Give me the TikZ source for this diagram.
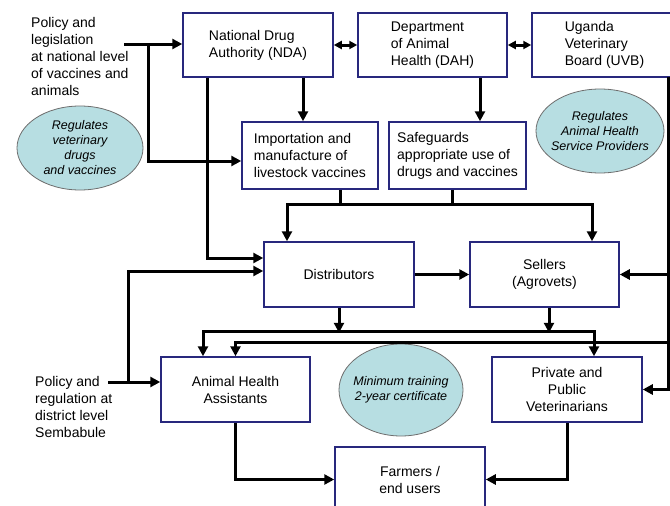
\documentclass[tikz,border=0pt]{standalone}
\usepackage{fontspec}
\setmainfont{Liberation Sans}
\usetikzlibrary{arrows.meta,shapes.geometric,calc}
\definecolor{boxblue}{RGB}{40,40,125}
\definecolor{ellfill}{RGB}{183,222,226}
\definecolor{ellline}{RGB}{110,110,110}
\begin{document}
\begin{tikzpicture}[x=1pt,y=-1pt,
  font=\fontsize{14}{17}\selectfont,
  >={Triangle[length=10pt,width=10pt]},
  box/.style={draw=boxblue,line width=1.5pt,fill=white,align=center,inner sep=2pt},
  ell/.style={ellipse,draw=ellline,fill=ellfill,line width=0.8pt,align=center,
    inner xsep=-10pt,inner ysep=-3pt,font=\fontsize{12.5}{15}\selectfont\itshape},
  conn/.style={line width=3pt},
  dbl/.style={line width=3pt,{Triangle[length=8pt,width=8pt]}-{Triangle[length=8pt,width=8pt]}},
  plain/.style={inner sep=0pt,align=left}]
\useasboundingbox (0,0) rectangle (670,506);
\clip (0,0) rectangle (670,506);
\fill[white] (0,0) rectangle (670,506);

% boxes
\node[box,minimum width=150pt,minimum height=64pt,align=left] (nda) at (258,45) {National Drug\\Authority (NDA)};
\node[box,minimum width=149pt,minimum height=64pt,align=left] (dah) at (432.5,45) {Department\\of Animal\\Health (DAH)};
\node[box,minimum width=145pt,minimum height=64pt,align=left] (uvb) at (604.5,45) {Uganda\\Veterinary\\Board (UVB)};
\node[box,minimum width=136pt,minimum height=67pt,align=left] (imp) at (310,155.5) {Importation and\\manufacture of\\livestock vaccines};
\node[box,minimum width=137pt,minimum height=67pt,align=left] (saf) at (457.5,155.5) {Safeguards\\appropriate use of\\drugs and vaccines};
\node[box,minimum width=150pt,minimum height=65pt] (dist) at (339,274.5) {Distributors};
\node[box,minimum width=149pt,minimum height=65pt] (sell) at (544.5,274.5) {Sellers\\(Agrovets)};
\node[box,minimum width=149pt,minimum height=65pt] (aha) at (235.5,389.5) {Animal Health\\Assistants};
\node[box,minimum width=150pt,minimum height=65pt] (pv) at (567,389.5) {Private and\\Public\\Veterinarians};
\node[box,minimum width=150pt,minimum height=65pt] (farm) at (410,479.5) {Farmers /\\end users};

% ellipses
\node[ell,minimum width=126pt,minimum height=84pt] (e1) at (80,148) {Regulates\\veterinary\\drugs\\and vaccines};
\node[ell,minimum width=128pt,minimum height=84pt] (e2) at (600,131) {Regulates\\Animal Health\\Service Providers};
\node[ell,minimum width=124pt,minimum height=92pt] (e3) at (401,390) {Minimum training\\2-year certificate};

% free texts
\node[plain,anchor=west] (pnt) at (31,56) {Policy and\\legislation\\at national level\\of vaccines and\\animals};
\node[plain,anchor=west] (pdt) at (35,406.5) {Policy and\\regulation at\\district level\\Sembabule};

\coordinate (pn) at (124,44);
\coordinate (j1) at (148,44);
\coordinate (pd) at (108,382);
\coordinate (j2) at (128,382);
\coordinate (rt) at (668,77);
\coordinate (b2r) at (668,342);

% national policy
\draw[conn,->] (pn) -- (pn -| nda.west);
\draw[conn,->] (j1) |- ([yshift=-5.5pt]imp.west);
% top row double arrows
\draw[dbl] (nda.east) -- (dah.west);
\draw[dbl] (dah.east) -- (uvb.west);
% NDA / DAH down
\draw[conn,->] ([xshift=45pt]nda.south) -- ([xshift=-7pt]imp.north);
\draw[conn,->] ([xshift=47.5pt]dah.south) -- ([xshift=22.5pt]saf.north);
\draw[conn,->] ([xshift=-51pt]nda.south) |- ([yshift=16.5pt]dist.west);
% bus to distributors and sellers
\draw[conn] ([xshift=30pt]imp.south) -- ++(0,16);
\draw[conn] ([xshift=-5.5pt]saf.south) -- ++(0,16);
\draw[conn,<->] ([xshift=-52pt]dist.north) -- ++(0,-37) -| ([xshift=47.5pt]sell.north);
\draw[conn,->] (dist.east) -- (sell.west);
% district policy
\draw[conn,->] (pd) -- (pd -| aha.west);
\draw[conn,->] (j2) |- ([yshift=3.5pt]dist.west);
% UVB right line
\draw[conn,->] (rt) |- (pv.east);
\draw[conn,->] (rt |- sell.east) -- (sell.east);
\draw[conn,->] (b2r) -| (aha.north);
% bus to AHA and vets
\draw[conn,<->] ([xshift=-32.5pt]aha.north) -- ++(0,-25) -| ([xshift=27pt]pv.north);
\draw[conn,->] (dist.south) -- ++(0,25);
\draw[conn,->] ([xshift=4.5pt]sell.south) -- ++(0,25);
% to farmers
\draw[conn,->] (aha.south) |- (farm.west);
\draw[conn,->] (pv.south) |- (farm.east);
\end{tikzpicture}
\end{document}
